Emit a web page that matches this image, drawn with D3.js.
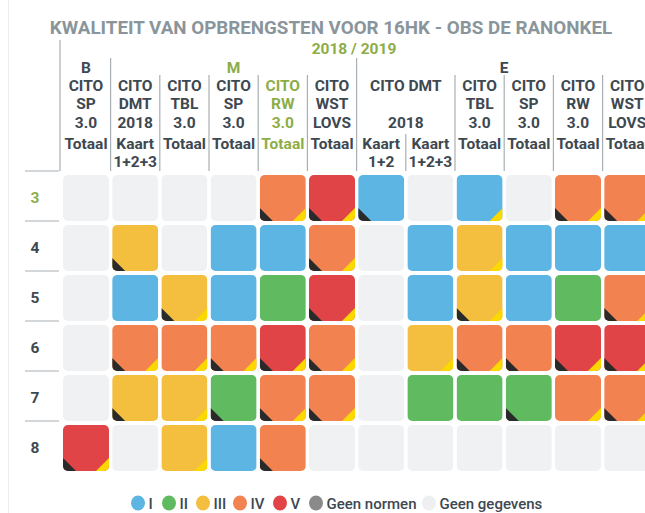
<!DOCTYPE html>
<html>
<head>
<meta charset="utf-8">
<script src="https://cdn.jsdelivr.net/npm/d3@7/dist/d3.min.js"></script>
<style>
  body { margin: 0; background: #fff; }
  svg { display: block; font-family: Roboto, "Noto Sans", sans-serif; }
</style>
</head>
<body>
<svg></svg>
<script>
const width = 645;
const height = 513;

/* data */
const rowLabels = ['3', '4', '5', '6', '7', '8'];
const columnKeys = d3.range(12);

const groupLabels = [
  { label: 'B', from: 0, to: 0 },
  { label: 'M', from: 1, to: 5 },
  { label: 'E', from: 6, to: 11 }
];

// test name lines per column (null = part of a merged header)
const testLines = [
  ['CITO', 'SP', '3.0'],
  ['CITO', 'DMT', '2018'],
  ['CITO', 'TBL', '3.0'],
  ['CITO', 'SP', '3.0'],
  ['CITO', 'RW', '3.0'],
  ['CITO', 'WST', 'LOVS'],
  null,
  null,
  ['CITO', 'TBL', '3.0'],
  ['CITO', 'SP', '3.0'],
  ['CITO', 'RW', '3.0'],
  ['CITO', 'WST', 'LOVS']
];
const mergedHeader = { from: 6, to: 7, lines: ['CITO DMT', '', '2018'] };

const partLines = [
  ['Totaal'], ['Kaart', '1+2+3'], ['Totaal'], ['Totaal'], ['Totaal'], ['Totaal'],
  ['Kaart', '1+2'], ['Kaart', '1+2+3'], ['Totaal'], ['Totaal'], ['Totaal'], ['Totaal']
];
const highlightColumn = 4;
const highlightRow = '3';

// level per cell ('-' = geen gegevens)
const levels = [
  ['-', '-', '-', '-', 'IV', 'V', 'I', '-', 'I', '-', 'IV', 'IV'],
  ['-', 'III', '-', 'I', 'I', 'IV', '-', 'I', 'III', 'I', 'I', 'I'],
  ['-', 'I', 'III', 'I', 'II', 'V', '-', 'I', 'III', 'I', 'II', 'IV'],
  ['-', 'IV', 'IV', 'IV', 'V', 'IV', '-', 'III', 'IV', 'IV', 'V', 'V'],
  ['-', 'III', 'III', 'II', 'IV', 'IV', '-', 'II', 'II', 'II', 'IV', 'IV'],
  ['V', '-', 'III', 'I', 'IV', '-', '-', '-', '-', '-', '-', '-']
];
// black corner (bottom left)
const blackFlags = [
  [0, 0, 0, 0, 1, 1, 1, 0, 0, 0, 1, 1],
  [0, 1, 0, 0, 0, 1, 0, 0, 0, 0, 0, 0],
  [0, 0, 1, 0, 0, 1, 0, 0, 1, 0, 0, 1],
  [0, 1, 0, 1, 1, 1, 0, 0, 1, 1, 1, 1],
  [0, 1, 0, 1, 1, 1, 0, 0, 0, 1, 0, 1],
  [1, 0, 0, 0, 1, 0, 0, 0, 0, 0, 0, 0]
];
// yellow corner (bottom right)
const yellowFlags = [
  [0, 0, 0, 0, 1, 1, 0, 0, 1, 0, 1, 1],
  [0, 0, 0, 0, 0, 1, 0, 0, 1, 0, 0, 0],
  [0, 0, 1, 0, 0, 1, 0, 0, 1, 0, 0, 1],
  [0, 1, 1, 1, 1, 1, 0, 1, 1, 0, 1, 1],
  [0, 0, 1, 0, 1, 1, 0, 0, 0, 0, 1, 1],
  [1, 0, 1, 0, 0, 0, 0, 0, 0, 0, 0, 0]
];

const legendKeys = ['I', 'II', 'III', 'IV', 'V', 'Geen normen', 'Geen gegevens'];

/* colours */
const colorScale = d3.scaleOrdinal()
  .domain(['I', 'II', 'III', 'IV', 'V', 'Geen normen', '-', 'Geen gegevens'])
  .range(['#5cb5e2', '#5fba60', '#f4be3e', '#f28350', '#e04446', '#8a8a8a', '#f0f1f3', '#eeeff1']);
const darkText = '#3d4851';
const green = '#8cad47';
const lineColor = '#a8b0b5';

/* svg */
const svg = d3.select('svg')
  .attr('width', width)
  .attr('height', height);

// faint container edge
svg.append('line')
  .attr('x1', 8.5).attr('x2', 8.5)
  .attr('y1', 0).attr('y2', height)
  .attr('stroke', '#ededed');

/* scales */
const x = d3.scaleBand()
  .domain(columnKeys)
  .range([61.4, 61.4 + 49.2 * 12])
  .paddingInner(3.2 / 49.2)
  .paddingOuter(1.6 / 49.2);

const y = d3.scaleBand()
  .domain(rowLabels)
  .range([173, 473])
  .paddingInner(0.08)
  .paddingOuter(0.04);

const colLeft = i => x(i) - (x.step() - x.bandwidth()) / 2;
const colRight = i => colLeft(i) + x.step();

/* title */
svg.append('text')
  .attr('x', 331)
  .attr('y', 34)
  .attr('text-anchor', 'middle')
  .style('font-size', '18.8px')
  .style('font-weight', 700)
  .style('fill', '#8a959b')
  .text('KWALITEIT VAN OPBRENGSTEN VOOR 16HK - OBS DE RANONKEL');

svg.append('text')
  .attr('x', 354)
  .attr('y', 54)
  .attr('text-anchor', 'middle')
  .style('font-size', '15.5px')
  .style('font-weight', 700)
  .style('fill', green)
  .text('2018 / 2019');

/* header separators */
const header = svg.append('g').attr('stroke', lineColor).attr('stroke-width', 1.2);

header.append('line')
  .attr('x1', 60).attr('x2', 60)
  .attr('y1', 40).attr('y2', 171);

groupLabels.slice(1).forEach(g => {
  header.append('line')
    .attr('x1', colLeft(g.from)).attr('x2', colLeft(g.from))
    .attr('y1', 58).attr('y2', 171);
});

columnKeys.forEach(i => {
  if (i === 0 || groupLabels.some(g => g.from === i)) return;
  const top = (i > mergedHeader.from && i <= mergedHeader.to) ? 134 : 75;
  header.append('line')
    .attr('x1', colLeft(i)).attr('x2', colLeft(i))
    .attr('y1', top).attr('y2', 171);
});

/* group labels */
svg.selectAll('text.group')
  .data(groupLabels)
  .join('text')
    .classed('group', true)
    .attr('x', d => (colLeft(d.from) + colRight(d.to)) / 2)
    .attr('y', 73)
    .attr('text-anchor', 'middle')
    .style('font-size', '15.5px')
    .style('font-weight', 700)
    .style('fill', d => d.label === 'M' ? green : darkText)
    .text(d => d.label);

/* column headers */
const testY = [91, 109, 127.5];
const partY = [149, 167];
const headFont = '15.5px';

columnKeys.forEach(i => {
  const cx = x(i) + x.bandwidth() / 2;
  const fill = i === highlightColumn ? green : darkText;
  if (testLines[i]) {
    testLines[i].forEach((t, k) => {
      svg.append('text')
        .attr('x', cx).attr('y', testY[k])
        .attr('text-anchor', 'middle')
        .style('font-size', headFont).style('font-weight', 700)
        .style('fill', fill)
        .text(t);
    });
  }
  partLines[i].forEach((t, k) => {
    svg.append('text')
      .attr('x', cx).attr('y', partY[k])
      .attr('text-anchor', 'middle')
      .style('font-size', headFont).style('font-weight', 700)
      .style('fill', fill)
      .text(t);
  });
});

mergedHeader.lines.forEach((t, k) => {
  svg.append('text')
    .attr('x', (colLeft(mergedHeader.from) + colRight(mergedHeader.to)) / 2)
    .attr('y', testY[k])
    .attr('text-anchor', 'middle')
    .style('font-size', headFont).style('font-weight', 700)
    .style('fill', darkText)
    .text(t);
});

/* row labels */
const rows = svg.selectAll('g.row')
  .data(rowLabels)
  .join('g')
    .classed('row', true);

rows.append('line')
  .attr('x1', 25).attr('x2', 59)
  .attr('y1', d => y(d) - 4).attr('y2', d => y(d) - 4)
  .attr('stroke', lineColor)
  .attr('stroke-width', 1.2);

rows.append('text')
  .attr('x', 35)
  .attr('y', d => y(d) + y.bandwidth() / 2 + 5)
  .attr('text-anchor', 'middle')
  .style('font-size', '15.5px')
  .style('font-weight', 700)
  .style('fill', d => d === highlightRow ? green : darkText)
  .text(d => d);

/* cells */
const cells = [];
rowLabels.forEach((r, ri) => {
  columnKeys.forEach(ci => {
    cells.push({
      row: r, col: ci,
      level: levels[ri][ci],
      black: blackFlags[ri][ci],
      yellow: yellowFlags[ri][ci]
    });
  });
});

const defs = svg.append('defs');
const bw = x.bandwidth();
const bh = y.bandwidth();
const tri = 13;

defs.selectAll('clipPath')
  .data(cells)
  .join('clipPath')
    .attr('id', (d, i) => 'clip' + i)
    .append('rect')
      .attr('x', d => x(d.col))
      .attr('y', d => y(d.row))
      .attr('width', bw)
      .attr('height', bh)
      .attr('rx', 5);

const cellG = svg.selectAll('g.cell')
  .data(cells)
  .join('g')
    .classed('cell', true)
    .attr('clip-path', (d, i) => `url(#clip${i})`);

cellG.append('rect')
  .attr('x', d => x(d.col))
  .attr('y', d => y(d.row))
  .attr('width', bw)
  .attr('height', bh)
  .attr('fill', d => colorScale(d.level));

cellG.filter(d => d.black)
  .append('path')
    .attr('fill', '#2a2a2a')
    .attr('d', d => {
      const x0 = x(d.col), y1 = y(d.row) + bh;
      return `M${x0},${y1 - tri}L${x0 + tri},${y1}L${x0},${y1}Z`;
    });

cellG.filter(d => d.yellow)
  .append('path')
    .attr('fill', '#fad800')
    .attr('d', d => {
      const x1 = x(d.col) + bw, y1 = y(d.row) + bh;
      return `M${x1},${y1 - tri}L${x1},${y1}L${x1 - tri},${y1}Z`;
    });

/* legend */
const legend = svg.append('g').attr('transform', 'translate(0, 503)');
const legendX = [138, 169, 203, 240, 280, 316, 429];

const item = legend.selectAll('g')
  .data(legendKeys)
  .join('g')
    .attr('transform', (d, i) => `translate(${legendX[i]}, 0)`);

item.append('ellipse')
  .attr('rx', 7)
  .attr('ry', 7.5)
  .attr('fill', d => colorScale(d));

item.append('text')
  .attr('x', 10.5)
  .attr('y', 6)
  .style('font-size', '15px')
  .style('font-weight', 500)
  .style('fill', darkText)
  .text(d => d);
</script>
</body>
</html>
